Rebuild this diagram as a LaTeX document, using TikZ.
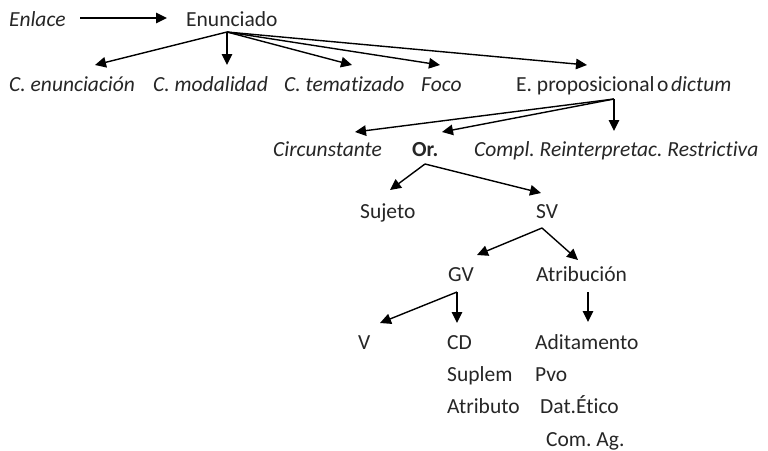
\documentclass[tikz,border=0pt]{standalone}
\usepackage{fontspec}
\setmainfont[Ligatures=NoCommon]{Carlito}
\usetikzlibrary{arrows.meta}
\definecolor{txt}{HTML}{262626}
\frenchspacing
\begin{document}
\begin{tikzpicture}[x=1pt,y=-1pt,
  lbl/.style={anchor=base west, inner sep=0pt, font=\fontsize{21.5}{25}\selectfont\frenchspacing, text=txt},
  arr/.style={line width=1.4pt, draw=black, -{Triangle[length=11pt,width=10.5pt]}}]
\useasboundingbox[fill=white] (0,0) rectangle (768,450);
% texts
\node[lbl] (enlace) at (9,26) {\itshape Enlace};
\node[lbl] (enun) at (186,26) {Enunciado};
\node[lbl] (cenun) at (9,91) {\itshape C. enunciación};
\node[lbl] (cmod) at (153,91) {\itshape C. modalidad};
\node[lbl] (ctem) at (284,91) {\itshape C. tematizado};
\node[lbl] (foco) at (421,91) {\itshape Foco};
\node[lbl] (eprop) at (516,91) {E. proposicional\hspace{0.12em}o\hspace{0.12em}\textit{dictum}};
\node[lbl] (circ) at (273,156) {\itshape Circunstante};
\node[lbl] (or) at (412,156) {\bfseries Or.};
\node[lbl] (compl) at (474,156) {\itshape Compl. Reinterpretac. Restrictiva};
\node[lbl] (suj) at (360,218) {Sujeto};
\node[lbl] (sv) at (536,218) {SV};
\node[lbl] (gv) at (448,281) {GV};
\node[lbl] (atr) at (536,281) {Atribución};
\node[lbl] (v) at (358,349) {V};
\node[lbl] (cd) at (447,349) {CD};
\node[lbl] (adit) at (535,349) {Aditamento};
\node[lbl] (supl) at (447,381) {Suplem};
\node[lbl] (pvo) at (535,381) {Pvo};
\node[lbl] (atrib) at (447,413) {Atributo};
\node[lbl] (dat) at (540,413) {Dat.Ético};
\node[lbl] (com) at (546,446) {Com. Ag.};
% connector end points
\coordinate (enlace-out) at (80,18);
\coordinate (enun-in) at (167,18);
\coordinate (enun-out) at (227,32);
\coordinate (cenun-in) at (95,65);
\coordinate (cmod-in) at (227,65);
\coordinate (ctem-in) at (352,65);
\coordinate (foco-in) at (440,65);
\coordinate (eprop-in) at (587,65);
\coordinate (eprop-out) at (614,99);
\coordinate (circ-in) at (355,132);
\coordinate (or-in) at (442,132);
\coordinate (compl-in) at (614,131);
\coordinate (or-out) at (425,164);
\coordinate (suj-in) at (390,190);
\coordinate (sv-in) at (541,193);
\coordinate (sv-out) at (542,228);
\coordinate (gv-in) at (477,255);
\coordinate (atr-in) at (578,260);
\coordinate (gv-out) at (457,292);
\coordinate (v-in) at (380,323);
\coordinate (cd-in) at (457,323);
\coordinate (atr-out) at (588,292);
\coordinate (adit-in) at (588,322);
% connectors
\draw[arr] (enlace-out) -- (enun-in);
\foreach \t in {cenun,cmod,ctem,foco,eprop} \draw[arr] (enun-out) -- (\t-in);
\foreach \t in {circ,or,compl} \draw[arr] (eprop-out) -- (\t-in);
\foreach \t in {suj,sv} \draw[arr] (or-out) -- (\t-in);
\foreach \t in {gv,atr} \draw[arr] (sv-out) -- (\t-in);
\foreach \t in {v,cd} \draw[arr] (gv-out) -- (\t-in);
\draw[arr] (atr-out) -- (adit-in);
\end{tikzpicture}
\end{document}
